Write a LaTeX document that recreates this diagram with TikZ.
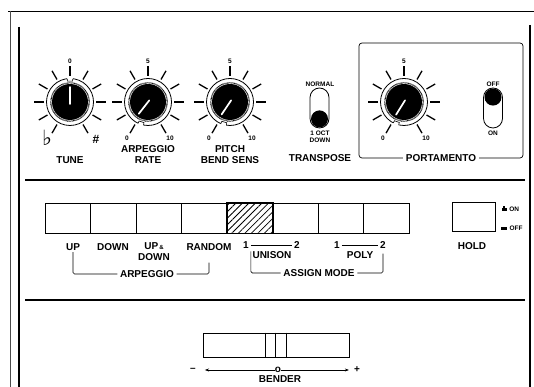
\documentclass[tikz,border=0pt]{standalone}
\usepackage{fontspec}
\setmainfont{Liberation Sans}
\newfontfamily\musicfont{DejaVu Sans}
\usepackage{tikz}
\usetikzlibrary{positioning,shapes,arrows.meta,patterns.meta}

\tikzstyle{lbl}=[font=\fontsize{10}{11}\selectfont\bfseries, inner sep=0pt]
\tikzstyle{bracketlbl}=[font=\fontsize{10}{11}\selectfont\bfseries, inner sep=0pt, inner xsep=2.5pt]
\tikzstyle{smalllbl}=[font=\fontsize{6.5}{7.5}\selectfont\bfseries, inner sep=0pt]
\tikzstyle{ring}=[circle, draw=black, line width=0.8pt, fill=white, minimum size=47pt, inner sep=0pt]
\tikzstyle{knobtick}=[line width=1.3pt]
\tikzstyle{pill}=[rectangle, draw=black, line width=0.8pt, rounded corners=9.5pt,
minimum width=19pt, minimum height=40pt, inner sep=0pt]
\tikzstyle{switchball}=[circle, fill=black, minimum size=17pt, inner sep=0pt]
\tikzstyle{padkey}=[rectangle, draw=black, line width=1pt, minimum width=45.5pt, minimum height=30pt, inner sep=0pt]
\tikzstyle{panel}=[line width=1.8pt]
\tikzstyle{bracket}=[line width=0.6pt, rounded corners=1.5pt]

\begin{document}
\begin{tikzpicture}[x=1pt, y=1pt]
            \useasboundingbox (0,0) rectangle (534,387);

            % frame and separators
            \draw[line width=0.8pt] (8,376) -- (534,376);
            \draw[line width=0.6pt, black!70] (10,376) -- (10,0);
            \draw[line width=2.8pt] (19,360) -- (19,0);
            \draw[line width=2.8pt] (530,362) -- (530,0);
            \draw[panel] (25,207) -- (525,207);
            \draw[panel] (25,87) -- (525,87);

            % knobs
            \foreach \n/\x/\p/\q in {tune/70/90/90, arp/148/232/252, bend/230/236/254, port/404/238/250}{
                \node[ring] (\n) at (\x,285) {};
                \foreach \a in {-60,-30,...,240}
                    \draw[knobtick, shift={(\n.center)}] (\a:26) -- (\a:36);
                \fill[shift={(\n.center)}] (0,0) circle (18);
                \draw[line width=1.2pt, dash pattern=on 0.6pt off 0.6pt, shift={(\n.center)}] (0,0) circle (19.2);
                \fill[white, shift={(\n.center)}] (\q-7:20) -- (\q-7:24.6) -- (\q+7:24.6) -- (\q+7:20) -- cycle;
                \draw[line width=0.6pt, shift={(\n.center)}] (\q-7:23.6) -- (\q-7:21) -- (\q+7:21) -- (\q+7:23.6);
                \draw[white, line width=1.7pt, line cap=round, shift={(\n.center)}] (\p+180:2) -- (\p:15);
            }

            \node[font=\fontsize{6.5}{7.5}\selectfont\bfseries, inner sep=0pt] (tunezero) at (70,326) {0};
            \node[font=\musicfont\fontsize{21}{21}\selectfont\bfseries, inner sep=0pt] (tuneflat) at (47,249) {♭};
            \node[font=\fontsize{12}{12}\selectfont\bfseries, inner sep=0pt] (tunesharp) at (96,248) {\#};
            \node[lbl] (tunelbl) at (70,227) {TUNE};

            \node[smalllbl] (arpmid) at (148,326) {5};
            \node[smalllbl] (arpmin) at (127,249) {0};
            \node[smalllbl] (arpmax) at (170,249) {10};
            \node[lbl, align=center] (arplbl) at (148,232.5) {ARPEGGIO\\RATE};

            \node[smalllbl] (bendmid) at (230,326) {5};
            \node[smalllbl] (bendmin) at (209,249) {0};
            \node[smalllbl] (bendmax) at (252,249) {10};
            \node[lbl, align=center] (bendlbl) at (230,232.5) {PITCH\\BEND SENS};

            % transpose switch
            \node[pill] (transw) at (319.5,279) {};
            \node[switchball] (transball) at ([yshift=9.5pt]transw.south) {};
            \node[smalllbl] (normal) at (320,303) {NORMAL};
            \node[smalllbl, align=center] (octdown) at (320,250) {1 OCT\\DOWN};
            \node[lbl] (translbl) at (320,229) {TRANSPOSE};

            % portamento
            \node[rectangle, draw=black, line width=0.7pt, rounded corners=3pt,
                  minimum width=164pt, minimum height=115pt] (portframe) at (441,286.5) {};
            \node[lbl, fill=white, inner xsep=2.5pt] (portlbl) at (portframe.south) {PORTAMENTO};
            \node[smalllbl] (portmid) at (404,326) {5};
            \node[smalllbl] (portmin) at (383,249) {0};
            \node[smalllbl] (portmax) at (426,249) {10};
            \node[pill] (portsw) at (493,279) {};
            \node[switchball] (portball) at ([yshift=-9.5pt]portsw.north) {};
            \node[smalllbl] (portoff) at (493,303) {OFF};
            \node[smalllbl] (porton) at (493,254) {ON};

            % mode keys
            \foreach \i in {1,...,8}
                \node[padkey] (k\i) at ({45+45.5*(\i-0.5)},168.5) {};
            \path[pattern={Lines[angle=45,distance=4.6pt,line width=0.8pt]}] (k5.south west) rectangle (k5.north east);
            \draw[line width=1pt] (k5.south west) rectangle (k5.north east);

            \node[lbl] (up) at (73,140) {UP};
            \node[lbl] (down) at (113,140) {DOWN};
            \node[lbl, align=center] (updown) at (154,135) {UP{\fontsize{6}{6}\selectfont\,\&}\\DOWN};
            \node[lbl] (random) at (209,140) {RANDOM};
            \node[bracketlbl] (arpg) at (147,113) {ARPEGGIO};
            \draw[bracket] ([yshift=-1.5pt]up.south) |- (arpg.west);
            \draw[bracket] (arpg.east) -| ([yshift=-12pt]random.south);

            \node[lbl] (u1) at (246,142) {1};
            \node[lbl] (u2) at (297,142) {2};
            \draw[line width=0.6pt] ([xshift=2pt]u1.east) -- ([xshift=-2pt]u2.west);
            \node[lbl] (unison) at (272,132) {UNISON};
            \node[lbl] (p1) at (337,142) {1};
            \node[lbl] (p2) at (383,142) {2};
            \draw[line width=0.6pt] ([xshift=2pt]p1.east) -- ([xshift=-2pt]p2.west);
            \node[lbl] (poly) at (360,132) {POLY};
            \node[bracketlbl] (assign) at (319,114) {ASSIGN MODE};
            \draw[bracket] ([xshift=-1.5pt]unison.north west) |- (assign.west);
            \draw[bracket] (assign.east) -| ([yshift=-5pt]p2.south);

            % hold
            \node[padkey, minimum width=43pt, minimum height=29pt] (hold) at (473.5,169.5) {};
            \node[lbl] (holdlbl) at (472,141) {HOLD};
            \node[fill=black, minimum width=5pt, minimum height=2.2pt, inner sep=0pt] (onmark) at (504,177.5) {};
            \node[fill=black, minimum width=2pt, minimum height=1.6pt, inner sep=0pt, above=0pt of onmark] (onbump) {};
            \node[fill=black, minimum width=5.5pt, minimum height=3.5pt, inner sep=0pt] (offmark) at (504,158.5) {};
            \node[smalllbl, right=2.5pt of onmark] (onlbl) {ON};
            \node[smalllbl, right=2.5pt of offmark] (offlbl) {OFF};

            % bender
            \node[rectangle, draw=black, line width=0.7pt, minimum width=146pt, minimum height=24pt] (bender) at (276,42) {};
            \draw[line width=0.5pt] ([xshift=-11pt]bender.north) -- ([xshift=-11pt]bender.south);
            \draw[line width=1pt] ([xshift=-0.5pt]bender.north) -- ([xshift=-0.5pt]bender.south);
            \draw[line width=0.5pt] ([xshift=10pt]bender.north) -- ([xshift=10pt]bender.south);
            \node[lbl] (zero) at (278,17) {o};
            \node[lbl] (minus) at (193,17) {--};
            \node[lbl] (plus) at (357,17) {+};
            \draw[-{Stealth[length=4pt,width=3pt]}, line width=0.5pt, shorten >=9pt] (zero.west) -- (minus.east);
            \draw[-{Stealth[length=4pt,width=3pt]}, line width=0.5pt, shorten >=5pt] (zero.east) -- (plus.west);
            \node[lbl] (benderlbl) at (280,8) {BENDER};
        \end{tikzpicture}
\end{document}
